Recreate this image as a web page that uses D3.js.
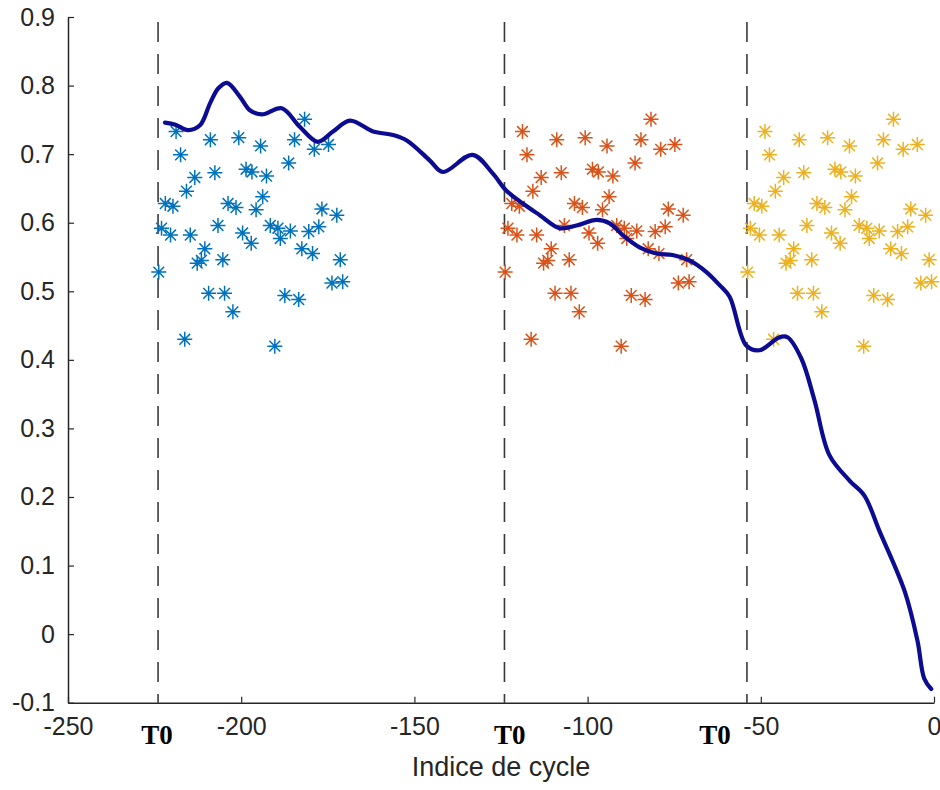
<!DOCTYPE html>
<html>
<head>
<meta charset="utf-8">
<script src="https://cdn.jsdelivr.net/npm/d3@7"></script>
<style>
  html, body { margin: 0; padding: 0; background: #fff; }
  svg { display: block; }
</style>
</head>
<body>
<svg id="chart" width="940" height="790"></svg>
<script>
// ---------------- data ----------------
const xTicks = [-250, -200, -150, -100, -50, 0];
const xTickLabels = ["-250", "-200", "-150", "-100", "-50", "0"];
const yTicks = [-0.1, 0, 0.1, 0.2, 0.3, 0.4, 0.5, 0.6, 0.7, 0.8, 0.9];
const yTickLabels = ["-0.1", "0", "0.1", "0.2", "0.3", "0.4", "0.5", "0.6", "0.7", "0.8", "0.9"];
const xLabel = "Indice de cycle";

// T0 reference cycles (dashed lines) and where the "T0" texts sit
const t0Lines = [-224, -124, -54];
const t0LabelX = [-224.3, -122.5, -63.2];
const t0Text = "T0";

// scatter cluster (same pattern repeated after each T0): offset in cycles after T0, and value
const clusterDx = [5.2, 15.1, 23.3, 29.6, 42.3, 39.4, 45.1, 49.2, 6.5, 37.7,
  10.6, 16.4, 25.4, 27.1, 31.3, 8.2, 30.2, 2.1, 4.3, 20.2,
  22.5, 28.3, 47.3, 51.6, 1.0, 3.6, 9.3, 17.3, 24.4, 26.9,
  32.4, 34.6, 35.3, 38.2, 43.5, 46.4, 13.5, 11.3, 12.5, 18.7,
  41.5, 44.6, 52.6, 0.2, 50.2, 53.3, 14.6, 19.2, 21.6, 36.6,
  40.6, 7.7, 33.7];
const clusterY = [0.733, 0.721, 0.724, 0.712, 0.751, 0.721, 0.707, 0.714, 0.699, 0.687,
  0.666, 0.673, 0.678, 0.674, 0.668, 0.646, 0.638, 0.628, 0.624, 0.628,
  0.622, 0.619, 0.620, 0.611, 0.592, 0.582, 0.582, 0.596, 0.585, 0.570,
  0.596, 0.592, 0.577, 0.588, 0.587, 0.594, 0.562, 0.541, 0.545, 0.546,
  0.562, 0.555, 0.546, 0.528, 0.512, 0.514, 0.497, 0.497, 0.470, 0.494,
  0.488, 0.430, 0.420];

// smooth health-indicator curve
const curveX = [-222.0, -219.0, -215.4, -211.9, -209.0, -206.6, -204.1, -200.4, -197.5, -194.0,
  -188.3, -183.1, -177.9, -173.5, -168.6, -161.9, -156.2, -152.2, -145.6, -141.8,
  -133.2, -127.4, -123.5, -118.7, -113.8, -108.1, -103.2, -97.4, -93.6, -89.9,
  -85.0, -80.1, -75.5, -70.6, -65.7, -61.9, -59.0, -54.2, -50.4, -44.6,
  -42.3, -38.3, -34.5, -30.2, -24.4, -20.1, -15.8, -8.5, -4.8, -2.8, -0.8];
const curveY = [0.746, 0.743, 0.735, 0.742, 0.774, 0.796, 0.804, 0.784, 0.764, 0.758,
  0.767, 0.740, 0.718, 0.733, 0.749, 0.733, 0.728, 0.720, 0.691, 0.674,
  0.699, 0.672, 0.647, 0.628, 0.611, 0.592, 0.596, 0.604, 0.599, 0.582,
  0.564, 0.555, 0.553, 0.545, 0.528, 0.509, 0.492, 0.421, 0.414, 0.433,
  0.433, 0.402, 0.341, 0.261, 0.224, 0.202, 0.151, 0.063, -0.009, -0.065, -0.080];

// ---------------- drawing ----------------
(function () {
const clusterColors = ["#0072BD", "#D95319", "#EDB120"];
const axisColor = "#262626";
const svg = d3.select("#chart");
const pL = 68, pR = 934, pT = 17, pB = 702.7;

const x = d3.scaleLinear().domain([-250, 0]).range([pL, pR]);
const y = d3.scaleLinear().domain([-0.1, 0.9]).range([pB, pT]);

// dashed T0 lines
svg.append("g").selectAll("line").data(t0Lines).join("line")
  .attr("x1", d => x(d)).attr("x2", d => x(d))
  .attr("y1", y(0.9)).attr("y2", y(-0.1))
  .attr("stroke", "#3a3a3a").attr("stroke-width", 1.6)
  .attr("stroke-dasharray", "20,12").attr("stroke-dashoffset", -5);

// scatter clusters
const starPath = "M-7.5,0H7.5M0,-7.5V7.5M-5.4,-5.4L5.4,5.4M-5.4,5.4L5.4,-5.4";
const pts = [];
t0Lines.forEach((t, ci) => clusterDx.forEach((dx, i) => pts.push({ x: t + dx, y: clusterY[i], c: ci })));
svg.append("g").selectAll("path").data(pts).join("path")
  .attr("transform", d => `translate(${x(d.x)},${y(d.y)})`)
  .attr("d", starPath)
  .attr("fill", "none")
  .attr("stroke", d => clusterColors[d.c])
  .attr("stroke-width", 1.5);

// curve
const line = d3.line().x(d => x(d[0])).y(d => y(d[1])).curve(d3.curveCatmullRom.alpha(0.5));
svg.append("path")
  .datum(curveX.map((v, i) => [v, curveY[i]]))
  .attr("d", line)
  .attr("fill", "none")
  .attr("stroke", "#0c0c92")
  .attr("stroke-width", 4.2)
  .attr("stroke-linejoin", "round")
  .attr("stroke-linecap", "round");

// axes
const fontFam = "'Liberation Sans', Arial, Helvetica, sans-serif";
const xAxis = d3.axisBottom(x).tickValues(xTicks).tickFormat((d, i) => xTickLabels[i])
  .tickSizeInner(-6).tickSizeOuter(0).tickPadding(15);
const gx = svg.append("g").attr("transform", `translate(0,${pB})`).call(xAxis);
const yAxis = d3.axisLeft(y).tickValues(yTicks).tickFormat((d, i) => yTickLabels[i])
  .tickSizeInner(-6).tickSizeOuter(0).tickPadding(13);
const gy = svg.append("g").attr("transform", `translate(${pL},0)`).call(yAxis);
[gx, gy].forEach(g => {
  g.select(".domain").attr("stroke", axisColor).attr("stroke-width", 1.5);
  g.selectAll(".tick line").attr("stroke", axisColor).attr("stroke-width", 1.2);
  g.selectAll(".tick text").attr("fill", axisColor)
    .style("font-family", fontFam).style("font-size", "25px");
});

// T0 labels
svg.append("g").selectAll("text").data(t0LabelX).join("text")
  .attr("x", d => x(d)).attr("y", pB + 41)
  .attr("text-anchor", "middle")
  .style("font-family", "'Liberation Serif', 'Times New Roman', serif")
  .style("font-weight", "bold").style("font-size", "27px")
  .attr("fill", "#000")
  .text(t0Text);

// x label
svg.append("text")
  .attr("x", (pL + pR) / 2).attr("y", pB + 73)
  .attr("text-anchor", "middle")
  .style("font-family", fontFam).style("font-size", "27px")
  .attr("fill", axisColor)
  .text(xLabel);
})();
</script>
</body>
</html>
